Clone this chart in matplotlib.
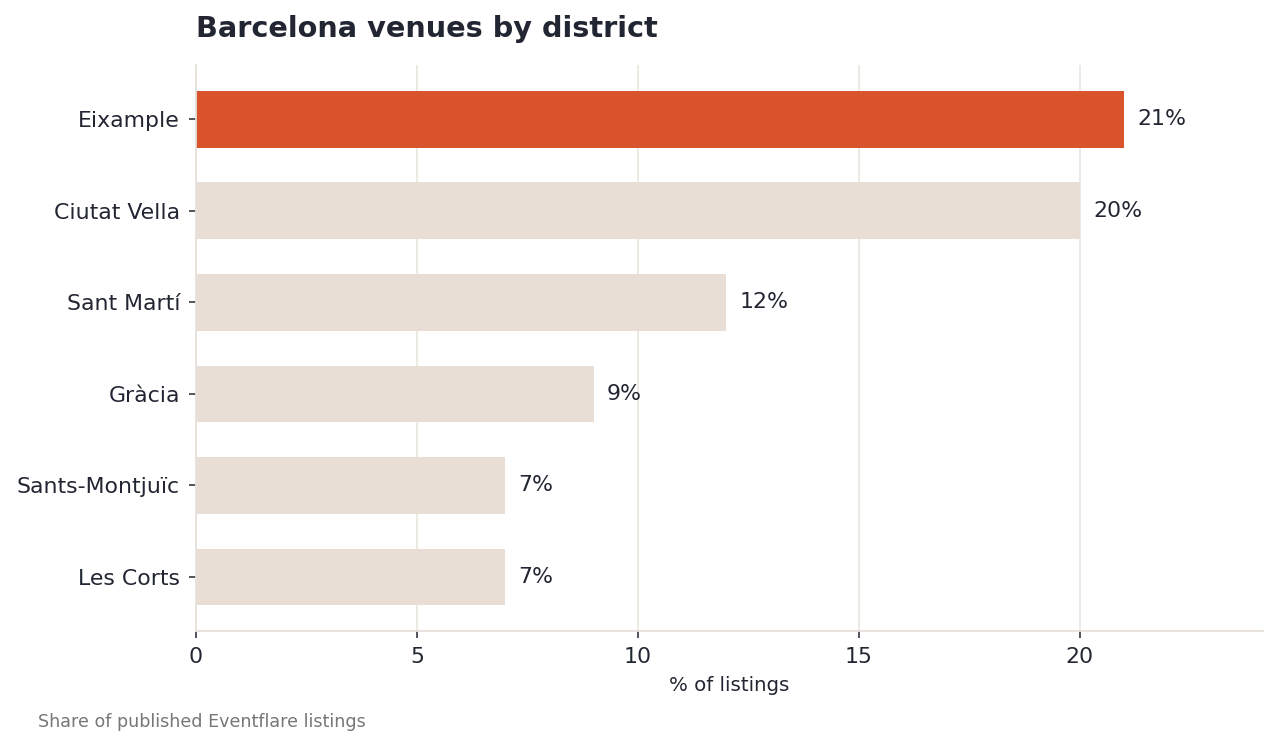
import matplotlib
matplotlib.use("Agg")
import matplotlib.pyplot as plt

plt.rcParams["font.family"] = ["DejaVu Sans"]

districts = ["Eixample", "Ciutat Vella", "Sant Martí", "Gràcia", "Sants-Montjuïc", "Les Corts"]
shares = [21, 20, 12, 9, 7, 7]
highlight = "Eixample"

text_col = "#222632"
fig, ax = plt.subplots(figsize=(12.78, 7.47), dpi=100)
fig.subplots_adjust(left=0.1534, right=0.9883, top=0.913, bottom=0.155)

ypos = list(range(len(districts)))
colors = ["#D9532C" if d == highlight else "#E8DED5" for d in districts]
ax.barh(ypos, shares, height=0.62, color=colors, zorder=2)
ax.set_yticks(ypos)
ax.set_yticklabels(districts)
ax.invert_yaxis()
ax.set_xlim(0, max(shares) * 1.15)

for y, v in zip(ypos, shares):
    ax.text(v + 0.3, y, f"{v}%", va="center", ha="left", fontsize=15.8, color=text_col)

ax.grid(axis="x", color="#ECE7E1", linewidth=1.3, zorder=0)
ax.set_axisbelow(True)
for s in ["top", "right"]:
    ax.spines[s].set_visible(False)
for s in ["left", "bottom"]:
    ax.spines[s].set_color("#E6E1DB")
    ax.spines[s].set_linewidth(1.3)
ax.tick_params(axis="both", labelsize=15.8, colors=text_col, length=5, width=1.1, pad=6.5)
ax.set_xlabel("% of listings", fontsize=14.2, color=text_col, labelpad=6)

ax.set_title("Barcelona venues by district", loc="left", fontsize=20.7, fontweight="bold",
             color=text_col, pad=20)
fig.text(0.03, 0.027, "Share of published Eventflare listings", fontsize=12.6, color="#777777")

fig.savefig("out.png", dpi=100)
